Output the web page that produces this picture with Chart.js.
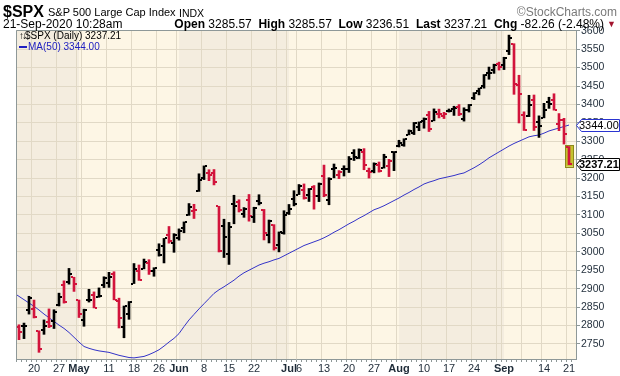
<!DOCTYPE html>
<html>
<head>
<meta charset="utf-8">
<title>$SPX S&amp;P 500 Large Cap Index</title>
<script src="https://cdn.jsdelivr.net/npm/chart.js@4.4.1/dist/chart.umd.min.js"></script>
<style>
html,body{margin:0;padding:0;background:#fff;overflow:hidden;}
#wrap{position:relative;width:620px;height:376px;font-family:"Liberation Sans",Arial,Helvetica,sans-serif;color:#000;}
#c{position:absolute;left:0;top:0;}
.t{position:absolute;white-space:nowrap;line-height:1;}
</style>
</head>
<body>
<div id="wrap">
<canvas id="c" width="620" height="376"></canvas>
<div class="t" style="left:3px;top:4px;font-size:16px;font-weight:bold;">$SPX</div>
<div class="t" style="left:48px;top:7px;font-size:11px;">S&amp;P 500 Large Cap Index</div>
<div class="t" style="left:179px;top:8px;font-size:10.5px;">INDX</div>
<div class="t" style="right:3px;top:6px;font-size:12px;color:#7a7a7a;">©StockCharts.com</div>
<div class="t" style="left:3px;top:18px;font-size:12px;">21-Sep-2020 10:28am</div>
<div class="t" style="right:16px;top:18px;font-size:12px;"><b>Open</b> 3285.57 &nbsp;<b>High</b> 3285.57 &nbsp;<b>Low</b> 3236.51 &nbsp;<b>Last</b> 3237.21 &nbsp;<b>Chg</b> -82.26 (-2.48%)</div>
<div class="t" style="right:4px;top:20px;font-size:9px;color:#a3142e;">▼</div>
<div class="t" id="leg1" style="left:19px;top:31px;font-size:10px;"></div>
<div class="t" id="leg2" style="left:19px;top:42px;font-size:10px;color:#2020c0;"></div>
</div>
<script>
// ---------- DATA ----------
// trading days 14-Apr-2020 .. 21-Sep-2020 (index 0 = 14-Apr)
const priorClose = 2761.63; // close of 13-Apr
const opens = [2805.10, 2795.64, 2799.34, 2842.43, 2845.62, 2784.81, 2787.89, 2810.42, 2812.64, 2854.65, 2909.96, 2918.46, 2930.91,
 2869.09, 2815.01, 2868.88, 2883.14, 2878.26, 2908.83, 2915.46, 2939.50, 2865.86, 2794.54, 2829.95, 2913.86, 2948.59, 2953.63, 2969.95, 2948.05, 3004.08, 3015.65, 3046.61, 3025.17,
 3038.78, 3064.78, 3098.90, 3111.56, 3163.84, 3199.92, 3213.32, 3213.42, 3123.53, 3071.04, 2993.76, 3131.00, 3136.13, 3101.64, 3140.29, 3094.42, 3138.70, 3114.40, 3046.60, 3073.20, 3018.59, 3050.20,
 3105.92, 3143.64, 3155.29, 3166.44, 3153.07, 3176.17, 3152.47, 3205.08, 3141.11, 3225.98, 3208.36, 3224.21, 3224.29, 3268.52, 3254.86, 3271.64, 3218.58, 3219.84, 3234.27, 3227.22, 3231.76, 3270.45,
 3288.26, 3289.92, 3317.37, 3323.17, 3340.05, 3356.04, 3370.34, 3355.46, 3372.95, 3368.66, 3380.86, 3387.04, 3392.51, 3360.48, 3386.01, 3418.09, 3435.95, 3449.97, 3485.14, 3494.69, 3509.73,
 3507.44, 3543.76, 3564.74, 3453.60, 3371.88, 3369.82, 3412.56, 3352.70, 3363.56, 3407.73, 3411.23, 3346.86, 3357.38, 3285.57];
const highs = [2851.85, 2801.88, 2806.51, 2879.22, 2868.98, 2785.54, 2815.10, 2844.90, 2842.71, 2887.72, 2921.15, 2954.86, 2930.91,
 2869.09, 2844.24, 2898.23, 2891.11, 2901.92, 2932.16, 2944.25, 2945.82, 2874.14, 2852.80, 2865.01, 2968.09, 2964.21, 2980.29, 2978.50, 2956.76, 3021.72, 3036.25, 3068.67, 3049.17,
 3062.18, 3081.07, 3130.94, 3128.91, 3211.72, 3233.13, 3222.71, 3223.27, 3123.53, 3088.42, 3079.76, 3153.45, 3141.16, 3120.00, 3155.53, 3120.92, 3154.90, 3115.01, 3086.25, 3073.73, 3053.89, 3111.51,
 3128.44, 3165.81, 3182.59, 3184.15, 3171.80, 3179.78, 3186.82, 3235.32, 3200.95, 3238.28, 3220.39, 3233.52, 3258.61, 3277.29, 3279.32, 3279.99, 3227.26, 3241.43, 3243.72, 3264.74, 3250.92, 3272.17,
 3302.73, 3306.84, 3330.77, 3351.03, 3352.54, 3363.29, 3381.01, 3387.89, 3387.24, 3378.51, 3387.59, 3395.06, 3399.54, 3390.80, 3399.96, 3432.09, 3444.21, 3481.07, 3501.38, 3509.23, 3514.77,
 3528.03, 3588.11, 3564.85, 3479.15, 3379.97, 3424.77, 3425.55, 3368.95, 3402.93, 3419.48, 3428.92, 3375.17, 3362.27, 3285.57];
const lows = [2805.10, 2761.54, 2764.32, 2830.88, 2820.43, 2727.10, 2775.95, 2794.26, 2791.76, 2852.89, 2860.71, 2912.16, 2892.47,
 2821.61, 2797.85, 2863.55, 2847.65, 2876.48, 2902.88, 2903.44, 2869.59, 2793.15, 2766.64, 2816.78, 2913.86, 2922.35, 2953.63, 2938.57, 2933.59, 2988.17, 2969.75, 3023.40, 2998.61,
 3031.54, 3051.64, 3098.90, 3090.41, 3163.84, 3196.00, 3193.11, 3181.49, 2999.49, 2984.47, 2965.66, 3076.06, 3108.03, 3093.51, 3083.11, 3079.39, 3127.12, 3032.13, 3024.01, 3004.63, 2999.74, 3047.83,
 3101.17, 3124.52, 3155.29, 3142.93, 3136.53, 3115.70, 3136.22, 3149.43, 3127.66, 3200.76, 3198.59, 3205.65, 3215.16, 3247.77, 3253.10, 3222.66, 3200.05, 3214.25, 3216.17, 3227.22, 3204.13, 3220.26,
 3284.53, 3286.37, 3317.37, 3318.14, 3328.72, 3335.44, 3326.44, 3355.46, 3363.35, 3361.64, 3379.22, 3370.15, 3369.66, 3354.69, 3379.31, 3413.13, 3425.84, 3444.15, 3468.35, 3484.32, 3493.25,
 3494.60, 3535.23, 3427.41, 3349.63, 3329.27, 3366.84, 3329.25, 3310.47, 3363.56, 3389.25, 3384.45, 3328.82, 3292.40, 3236.51];
const closes = [2846.06, 2783.36, 2799.55, 2874.56, 2823.16, 2736.56, 2799.31, 2797.80, 2836.74, 2878.48, 2863.39, 2939.51, 2912.43,
 2830.71, 2842.74, 2868.44, 2848.42, 2881.19, 2929.80, 2930.32, 2870.12, 2820.00, 2852.50, 2863.70, 2953.91, 2922.94, 2971.61, 2948.51, 2955.45, 2991.77, 3036.13, 3029.73, 3044.31,
 3055.73, 3080.82, 3122.87, 3112.35, 3193.93, 3232.39, 3207.18, 3190.14, 3002.10, 3041.31, 3066.59, 3124.74, 3113.49, 3115.34, 3097.74, 3117.86, 3131.29, 3050.33, 3083.76, 3009.05, 3053.24, 3100.29,
 3115.86, 3130.01, 3179.72, 3145.32, 3169.94, 3152.05, 3185.04, 3155.22, 3197.52, 3226.56, 3215.57, 3224.73, 3251.84, 3257.30, 3276.02, 3235.66, 3215.63, 3239.41, 3218.44, 3258.44, 3246.22, 3271.12,
 3294.61, 3306.51, 3327.77, 3349.16, 3351.28, 3360.47, 3333.69, 3380.35, 3373.43, 3372.85, 3381.99, 3389.78, 3374.85, 3385.51, 3397.16, 3431.28, 3443.62, 3478.73, 3484.55, 3508.01, 3500.31,
 3526.65, 3580.84, 3455.06, 3426.96, 3331.84, 3398.96, 3339.19, 3340.97, 3383.54, 3401.20, 3385.49, 3357.01, 3319.47, 3237.21];
const ma50 = [2888, 2879, 2870, 2861, 2852, 2842, 2831, 2821, 2811, 2801, 2792, 2781, 2768,
 2755, 2743, 2738, 2734, 2731, 2729, 2727, 2723, 2719, 2716, 2713, 2712, 2714, 2716, 2721, 2727, 2734, 2744, 2755, 2765,
 2778, 2797, 2815, 2830, 2845, 2859, 2873, 2887, 2897, 2905, 2914, 2923, 2934, 2943, 2950, 2957, 2964, 2969, 2973, 2978, 2982, 2989,
 2996, 3003, 3010, 3017, 3022, 3027, 3032, 3038, 3045, 3053, 3060, 3068, 3076, 3083, 3091, 3098, 3106, 3114, 3119, 3125, 3132, 3139,
 3146, 3154, 3161, 3169, 3176, 3184, 3189, 3193, 3198, 3201, 3204, 3207, 3211, 3214, 3221, 3228, 3236, 3245, 3255, 3263, 3271,
 3279, 3287, 3294, 3300, 3306, 3312, 3315, 3317, 3322, 3328, 3332, 3336, 3340, 3344.00];
// x-axis: gridline positions (trading-day index) and their labels
const xLabelIdx = [4, 9, 13, 14, 19, 24, 29, 33, 38, 43, 48, 53, 55, 57, 62, 67, 72, 77, 82, 87, 92, 97, 98, 102, 106, 111];
const xLabelTxt = ['20','27','May','','11','18','26','Jun','8','15','22','','Jul','6','13','20','27','Aug','10','17','24','','Sep','','14','21'];
const monthStarts = [13, 33, 55, 77, 98];
const yTicks = [2750, 2800, 2850, 2900, 2950, 3000, 3050, 3100, 3150, 3200, 3250, 3300, 3350, 3400, 3450, 3500, 3550, 3600];

// ---------- STYLE ----------
const FONT = '"Liberation Sans", Arial, Helvetica, sans-serif';
const LIGHT = '#fdf6e5', DARK = '#f4eddf', GRID = '#e1d9c6', AXIS = '#8e9898';
const UP = '#000000', DOWN = '#d2143c', MA_BLUE = '#3434c8', LBL = '#1e2b38';
const last = closes.length - 1;
const barColors = closes.map((c, i) => c >= (i === 0 ? priorClose : closes[i - 1]) ? UP : DOWN);

document.getElementById('leg1').innerHTML = '<span style="letter-spacing:-2px;font-size:10px">↑↓</span>$SPX (Daily) ' + closes[last].toFixed(2);
document.getElementById('leg2').innerHTML = '<span style="display:inline-block;width:8px;height:2px;background:#2020c0;vertical-align:middle;margin-right:1px"></span>MA(50) ' + ma50[last].toFixed(2);

const bgPlugin = {
  id: 'bg',
  beforeDraw(chart) {
    const { ctx, chartArea: a, scales: { x } } = chart;
    ctx.save();
    ctx.fillStyle = LIGHT;
    ctx.fillRect(a.left, a.top, a.right - a.left, a.bottom - a.top);
    const b = [x.min, ...monthStarts, x.max];
    for (let k = 0; k < b.length - 1; k += 2) {
      const x0 = Math.max(a.left, x.getPixelForValue(b[k]));
      const x1 = Math.min(a.right, x.getPixelForValue(b[k + 1]));
      ctx.fillStyle = DARK;
      ctx.fillRect(x0, a.top, x1 - x0, a.bottom - a.top);
    }
    ctx.restore();
  },
  beforeDatasetsDraw(chart) {
    const { ctx, scales: { x, y } } = chart;
    const px = x.getPixelForValue(last);
    const top = y.getPixelForValue(highs[last]);
    const bot = y.getPixelForValue(lows[last]);
    ctx.save();
    ctx.fillStyle = '#c4c22e';
    ctx.fillRect(px - 3, top - 1, 7, bot - top + 3);
    ctx.strokeStyle = '#8c8a1c';
    ctx.lineWidth = 1;
    ctx.strokeRect(px - 3.5, Math.round(top) - 1.5, 8, Math.round(bot - top) + 4);
    ctx.restore();
  },
  afterDatasetsDraw(chart) {
    const { ctx, chartArea: a, scales: { x, y } } = chart;
    ctx.save();
    ctx.beginPath();
    ctx.rect(a.left, a.top, a.right - a.left, a.bottom - a.top);
    ctx.clip();
    for (let i = 0; i < closes.length; i++) {
      const px = Math.round(x.getPixelForValue(i));
      const yo = Math.round(y.getPixelForValue(opens[i]));
      const yc = Math.round(y.getPixelForValue(closes[i]));
      ctx.fillStyle = barColors[i];
      ctx.fillRect(px - 3, yo - 1, 2, 2);
      ctx.fillRect(px + 1, yc - 1, 2, 2);
    }
    ctx.restore();
  },
  afterDraw(chart) {
    const { ctx, chartArea: a, scales: { y } } = chart;
    ctx.save();
    ctx.strokeStyle = AXIS;
    ctx.lineWidth = 1;
    ctx.beginPath();
    ctx.moveTo(a.left + 0.5, a.bottom);
    ctx.lineTo(a.left + 0.5, a.top + 0.5);
    ctx.lineTo(a.right, a.top + 0.5);
    ctx.stroke();
    const tag = (val, text, stroke, bold) => {
      const yv = Math.round(y.getPixelForValue(val)) + 0.5;
      const xl = a.right + 0.5, xr = 619.5, h = 6;
      ctx.beginPath();
      ctx.moveTo(xl, yv);
      ctx.lineTo(xl + 5, yv - h);
      ctx.lineTo(xr, yv - h);
      ctx.lineTo(xr, yv + h);
      ctx.lineTo(xl + 5, yv + h);
      ctx.closePath();
      ctx.fillStyle = '#ffffff';
      ctx.fill();
      ctx.strokeStyle = stroke;
      ctx.stroke();
      ctx.fillStyle = '#000';
      ctx.font = (bold ? 'bold ' : '') + '11px ' + FONT;
      ctx.textBaseline = 'middle';
      ctx.textAlign = 'left';
      ctx.fillText(text, xl + 2.5, yv + 0.5);
    };
    tag(ma50[last], ma50[last].toFixed(2), '#2a34d0', false);
    tag(closes[last], closes[last].toFixed(2), '#000000', true);
    ctx.restore();
  }
};

Chart.defaults.font.family = FONT;
new Chart(document.getElementById('c'), {
  type: 'bar',
  data: {
    datasets: [
      {
        type: 'bar', label: '$SPX (Daily)',
        data: highs.map((h, i) => ({ x: i, y: [lows[i], h] })),
        backgroundColor: barColors, borderWidth: 0, barThickness: 2, order: 0
      },
      {
        type: 'line', label: 'MA(50)',
        data: ma50.map((v, i) => ({ x: i, y: v })),
        borderColor: MA_BLUE, borderWidth: 1, pointRadius: 0, fill: false, tension: 0, order: 1
      }
    ]
  },
  options: {
    responsive: false, animation: false, events: [],
    layout: { padding: { left: 16, top: 30, right: 0, bottom: 0 } },
    plugins: { legend: { display: false }, tooltip: { enabled: false } },
    scales: {
      x: {
        type: 'linear', min: 0.4, max: 112.4, offset: false,
        afterBuildTicks: s => { s.ticks = closes.map((_, i) => ({ value: i })).filter(t => t.value > 0); },
        afterFit: s => { s.height = 17; },
        ticks: {
          autoSkip: false, maxRotation: 0, minRotation: 0, padding: 0, color: LBL,
          callback: v => { const k = xLabelIdx.indexOf(v); return k >= 0 ? xLabelTxt[k] : ''; },
          font: c => ({ family: FONT, size: 11, weight: (c.tick && monthStarts.includes(c.tick.value)) ? 'bold' : 'normal' })
        },
        grid: {
          color: c => (c.tick && xLabelIdx.includes(c.tick.value)) ? GRID : 'rgba(0,0,0,0)',
          tickColor: AXIS, tickLength: 3, lineWidth: 1
        },
        border: { color: AXIS, width: 1 }
      },
      y: {
        position: 'right', min: 2709, max: 3602,
        afterBuildTicks: s => { s.ticks = yTicks.map(v => ({ value: v })); },
        afterFit: s => { s.width = 44; },
        ticks: { color: LBL, padding: 1, font: { family: FONT, size: 10.5 }, callback: v => String(v) },
        grid: { color: GRID, tickColor: AXIS, tickLength: 4, lineWidth: 1 },
        border: { color: AXIS, width: 1 }
      }
    }
  },
  plugins: [bgPlugin]
});
</script>
</body>
</html>
